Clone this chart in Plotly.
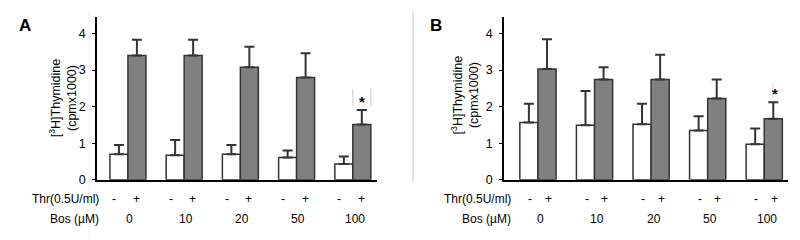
import plotly.graph_objects as go

groups = ["0", "10", "20", "50", "100"]
thr_minus_label = "-"
thr_plus_label = "+"

a_ctrl = [0.70, 0.67, 0.70, 0.61, 0.43]
a_ctrl_err = [0.25, 0.42, 0.25, 0.19, 0.21]
a_thr = [3.40, 3.40, 3.08, 2.80, 1.51]
a_thr_err = [0.43, 0.43, 0.56, 0.66, 0.40]

b_ctrl = [1.57, 1.49, 1.52, 1.35, 0.97]
b_ctrl_err = [0.51, 0.94, 0.56, 0.39, 0.43]
b_thr = [3.03, 2.74, 2.74, 2.22, 1.67]
b_thr_err = [0.81, 0.34, 0.68, 0.52, 0.45]

yticks = [0, 1, 2, 3, 4]

FONT = "Liberation Sans, Arial, sans-serif"
xs = list(range(len(groups)))
bw = 0.32

fig = go.Figure()


def add_panel(ctrl, ctrl_err, thr, thr_err, xa, ya):
    for vals, errs, fill, off in [(ctrl, ctrl_err, "white", -bw / 2), (thr, thr_err, "#808080", bw / 2)]:
        fig.add_trace(go.Bar(
            x=[x + off for x in xs], y=vals, width=bw,
            marker=dict(color=fill, line=dict(color="#333333", width=1.5)),
            error_y=dict(type="data", array=errs, arrayminus=[0] * len(errs), symmetric=False,
                         color="#333333", thickness=2, width=5),
            xaxis=xa, yaxis=ya, showlegend=False,
        ))


add_panel(a_ctrl, a_ctrl_err, a_thr, a_thr_err, "x", "y")
add_panel(b_ctrl, b_ctrl_err, b_thr, b_thr_err, "x2", "y2")

yax = dict(range=[0, 4.45], tickvals=yticks, showgrid=False, zeroline=False,
           showline=True, linecolor="black", linewidth=1.5, ticks="outside", ticklen=3,
           tickcolor="black", tickfont=dict(family=FONT, size=12.5, color="black"),
           ticklabelstandoff=4,
           domain=[(240 - 177) / 240, (240 - 9.3) / 240])
xax = dict(showgrid=False, zeroline=False, showline=True, linecolor="black", linewidth=1.5,
           showticklabels=False, ticks="")

fig.update_layout(
    width=800, height=240, margin=dict(l=0, r=0, t=0, b=0),
    paper_bgcolor="white", plot_bgcolor="white", barmode="overlay",
    xaxis=dict(xax, range=[-0.55, 4.43], domain=[89 / 800, 369 / 800]),
    yaxis=dict(yax, anchor="x"),
    xaxis2=dict(xax, range=[-0.60, 4.42], domain=[496 / 800, 780 / 800], anchor="y2"),
    yaxis2=dict(yax, anchor="x2"),
    font=dict(family=FONT, color="black"),
)

ann = []
shapes = []
ytitle = "[<sup>3</sup>H]Thymidine<br>(cpmx1000)"
for xa, xpx, ypx, lbl, lblx, thr_lx, bos_lx, moff, poff, noff in [
    ("x", 55, 93, "A", 17, 93, 93, -0.24, 0.15, 0.03),
    ("x2", 457, 90, "B", 428, 505, 505, -0.14, 0.18, 0.05),
]:
    ann.append(dict(xref="paper", yref="paper", x=xpx / 800, y=1 - ypx / 240, text=ytitle,
                    textangle=-90, showarrow=False, font=dict(size=12.5, family=FONT),
                    xanchor="center", yanchor="middle"))
    ann.append(dict(xref="paper", yref="paper", x=lblx / 800, y=1 - 18 / 240, text="<b>%s</b>" % lbl,
                    showarrow=False, font=dict(size=17, family=FONT), xanchor="center", yanchor="middle"))
    ann.append(dict(xref="paper", yref="paper", x=thr_lx / 800, y=1 - 197 / 240, text="Thr(0.5U/ml)",
                    showarrow=False, font=dict(size=12, family=FONT), xanchor="right", yanchor="middle"))
    ann.append(dict(xref="paper", yref="paper", x=bos_lx / 800, y=1 - 217 / 240, text="Bos (µM)",
                    showarrow=False, font=dict(size=12, family=FONT), xanchor="right", yanchor="middle"))
    for i, g in enumerate(groups):
        ann.append(dict(xref=xa, yref="paper", x=i + moff, y=1 - 197 / 240, text=thr_minus_label,
                        showarrow=False, font=dict(size=12, family=FONT), xanchor="center", yanchor="middle"))
        ann.append(dict(xref=xa, yref="paper", x=i + poff, y=1 - 197 / 240, text=thr_plus_label,
                        showarrow=False, font=dict(size=12, family=FONT), xanchor="center", yanchor="middle"))
        ann.append(dict(xref=xa, yref="paper", x=i + noff, y=1 - 217 / 240, text=g,
                        showarrow=False, font=dict(size=12, family=FONT), xanchor="center", yanchor="middle"))

# significance marks on last group
last = len(groups) - 1
ta = a_thr[last] + a_thr_err[last]
ann.append(dict(xref="x", yref="y", x=last + bw / 2, y=ta + 0.22, text="<b>*</b>", showarrow=False,
                font=dict(size=15, family=FONT), xanchor="center", yanchor="middle"))
for ex in [last, last + bw]:
    shapes.append(dict(type="line", xref="x", yref="y", x0=ex, x1=ex, y0=ta + 0.10, y1=ta + 0.58,
                       line=dict(color="#cccccc", width=1)))
tb = b_thr[last] + b_thr_err[last]
ann.append(dict(xref="x2", yref="y2", x=last + bw / 2 + 0.03, y=tb + 0.23, text="<b>*</b>", showarrow=False,
                font=dict(size=15, family=FONT), xanchor="center", yanchor="middle"))
shapes.append(dict(type="line", xref="x2", yref="y2", x0=last + 0.15, x1=last + 0.15, y0=tb + 0.11, y1=tb + 0.53,
                   line=dict(color="#dddddd", width=1)))

# faint crop lines
shapes.append(dict(type="line", xref="paper", yref="paper", x0=81 / 800, x1=81 / 800, y0=0, y1=1 - 3 / 240,
                   line=dict(color="#f0f0f0", width=1)))
shapes.append(dict(type="line", xref="paper", yref="paper", x0=405 / 800, x1=405 / 800, y0=1 - 180 / 240, y1=1 - 3 / 240,
                   line=dict(color="#cccccc", width=1)))

fig.update_layout(annotations=ann, shapes=shapes)
fig.write_html("out.html")
